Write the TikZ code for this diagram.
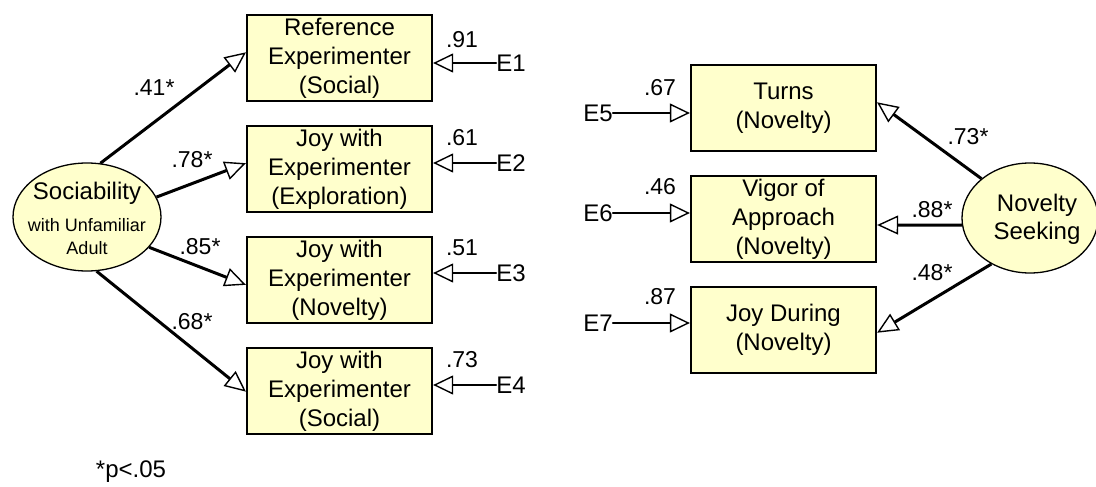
\documentclass[tikz,border=0pt]{standalone}
\usepackage{fontspec}
\setmainfont{Liberation Sans}
\usetikzlibrary{arrows.meta,shapes.geometric}
\definecolor{boxfill}{HTML}{FFFFCC}
\begin{document}
\begin{tikzpicture}[x=1pt,y=-1pt,
  txt/.style={font=\fontsize{24}{29}\selectfont, inner sep=0pt},
  obs/.style={draw=black, line width=1.3pt, fill=boxfill, minimum width=185pt, minimum height=86pt, inner sep=0pt, align=center, font=\fontsize{24}{29}\selectfont},
  pathar/.style={line width=3pt, -{Triangle[open, fill=white, line width=1.4pt, length=21pt, width=19pt]}, shorten >=0.5pt},
  errar/.style={line width=1.8pt, line cap=round, -{Triangle[open, fill=white, line width=1.4pt, length=20pt, width=19pt]}, shorten >=0.5pt},
  coef/.style={font=\fontsize{23}{27}\selectfont, inner sep=0pt},
]
\useasboundingbox (0,0) rectangle (1096,487);
% left boxes
\node[obs] (b1) at (339.5,58) {Reference\\Experimenter\\(Social)};
\node[obs] (b2) at (339.5,169) {Joy with\\Experimenter\\(Exploration)};
\node[obs] (b3) at (339.5,280) {Joy with\\Experimenter\\(Novelty)};
\node[obs] (b4) at (339.5,391) {Joy with\\Experimenter\\(Social)};
% sociability ellipse
\node[draw=black, line width=1.3pt, fill=boxfill, ellipse, minimum width=148pt, minimum height=108pt, inner sep=0pt] (soc) at (87,217) {};
\node[txt] (soct1) at (87,193) {Sociability};
\node[inner sep=0pt, font=\fontsize{18}{21}\selectfont] (soct2) at (87,225) {with Unfamiliar};
\node[inner sep=0pt, font=\fontsize{18}{21}\selectfont] (soct3) at (87,248) {Adult};
% paths left
\draw[pathar] (soc.76.5) -- (b1.west |- 0,52);
\draw[pathar] (soc.16) -- (b2.west |- 0,163);
\draw[pathar] (soc.-26) -- (b3.west |- 0,285);
\draw[pathar] (soc.-80) -- (b4.west |- 0,392);
\node[coef] (c41) at (154,88) {.41*};
\node[coef] (c78) at (192,160) {.78*};
\node[coef] (c85) at (200,247) {.85*};
\node[coef] (c68) at (192,322) {.68*};
% errors left
\node[txt] (e1) at (511,63) {E1};
\node[txt] (e2) at (511,163) {E2};
\node[txt] (e3) at (511,273) {E3};
\node[txt] (e4) at (511,385) {E4};
\draw[errar] (e1.west) -- (b1.east |- e1);
\draw[errar] (e2.west) -- (b2.east |- e2);
\draw[errar] (e3.west) -- (b3.east |- e3);
\draw[errar] (e4.west) -- (b4.east |- e4);
\node[coef] (r1) at (462,40) {.91};
\node[coef] (r2) at (462,138) {.61};
\node[coef] (r3) at (462,248) {.51};
\node[coef] (r4) at (462,360) {.73};
% right boxes
\node[obs] (t1) at (783.5,108) {Turns\\(Novelty)};
\node[obs] (t2) at (783.5,219) {Vigor of\\Approach\\(Novelty)};
\node[obs] (t3) at (783.5,330) {Joy During\\(Novelty)};
% novelty ellipse
\node[draw=black, line width=1.3pt, fill=boxfill, ellipse, minimum width=136pt, minimum height=110pt, inner sep=0pt] (nov) at (1030,218) {};
\node[txt, align=center, font=\fontsize{24}{28}\selectfont] (novt) at (1037,219) {Novelty\\Seeking};
\draw[pathar] (nov.141.6) -- (t1.east |- 0,102);
\draw[pathar] (nov.186) -- (t2.east |- 0,225);
\draw[pathar] (nov.230) -- (t3.east |- 0,333);
\node[coef] (c73) at (968,137) {.73*};
\node[coef] (c88) at (932,210) {.88*};
\node[coef] (c48) at (932,273) {.48*};
% errors right
\node[txt] (e5) at (598,113) {E5};
\node[txt] (e6) at (598,213) {E6};
\node[txt] (e7) at (598,323) {E7};
\draw[errar] (e5.east) -- (t1.west |- e5);
\draw[errar] (e6.east) -- (t2.west |- e6);
\draw[errar] (e7.east) -- (t3.west |- e7);
\node[coef] (r5) at (660,88) {.67};
\node[coef] (r6) at (660,187) {.46};
\node[coef] (r7) at (660,297) {.87};
% note
\node[txt] (note) at (131,472) {*p<.05};
\end{tikzpicture}
\end{document}
